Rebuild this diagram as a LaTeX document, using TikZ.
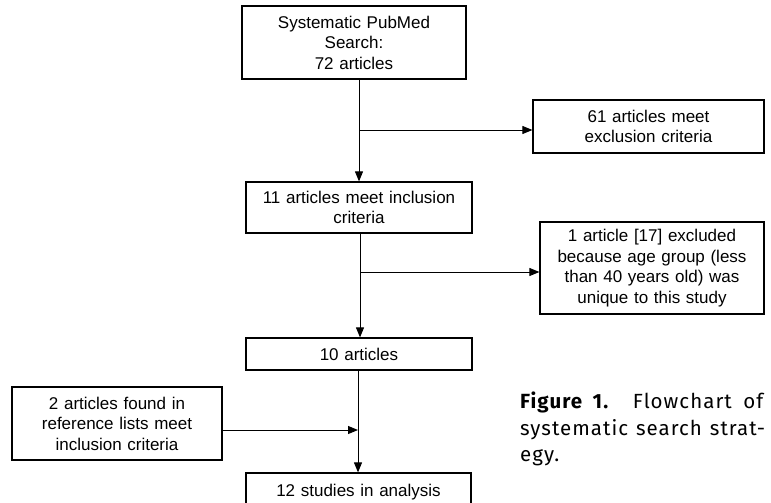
\documentclass[tikz,border=0pt]{standalone}
\usepackage{fontspec}
\setmainfont{Liberation Sans}
\newfontfamily\capfont[LetterSpace=5]{Fira Sans}
\usetikzlibrary{arrows.meta}
\tikzset{
  box/.style={draw, line width=1.2pt, align=center, inner xsep=5pt, inner ysep=0pt,
    font=\fontsize{17}{20.5}\selectfont},
  link/.style={line width=1pt, -{Triangle[length=10pt,width=8pt]}},
  capline/.style={anchor=base west, inner sep=0pt, font=\capfont\fontsize{20.5}{26}\selectfont}
}
\begin{document}
\begin{tikzpicture}[x=1pt,y=-1pt]
    \useasboundingbox (0,0) rectangle (771,503);
    \node[box, text width=214pt, minimum height=73pt] (search) at (354,42.5)
    {Systematic PubMed\\Search:\\72 articles};
    \node[box, text width=221pt, minimum height=53pt] (excl) at (648.5,126.5)
    {61 articles meet\\exclusion criteria};
    \node[box, text width=216pt, minimum height=51pt] (incl) at (359,207.5)
    {11 articles meet inclusion\\criteria};
    \node[box, text width=214pt, minimum height=92pt] (age) at (652,268)
    {1 article [17] excluded\\because age group (less\\than 40 years old) was\\unique to this study};
    \node[box, text width=216pt, minimum height=32pt] (ten) at (359,354) {10 articles};
    \node[box, text width=200pt, minimum height=73pt] (refs) at (117,423.5)
    {2 articles found in\\reference lists meet\\inclusion criteria};
    \node[box, text width=215pt, minimum height=37pt, text depth=0pt] (final) at (358.5,491.5)
    {\raisebox{2pt}{12 studies in analysis}};
    % junctions on the main line
    \coordinate (j1) at (359,130);
    \coordinate (j2) at (360,272);
    \coordinate (j3) at (358,430);
    \draw[link] (search.south -| j1) -- (incl.north -| j1);
    \draw[link] (j1) -- (excl.west |- j1);
    \draw[link] (incl.south -| j2) -- (ten.north -| j2);
    \draw[link] (j2) -- (age.west |- j2);
    \draw[link] (ten.south -| j3) -- (final.north -| j3);
    \draw[link] (refs.east |- j3) -- (j3);
    % caption
    \node[capline] (cap1) at (520,408) {\makebox[243pt][s]{\textbf{Figure 1.} Flowchart of}};
    \node[capline] (cap2) at (520,435) {\makebox[245pt][s]{systematic search strat-}};
    \node[capline] (cap3) at (520,461) {egy.};
\end{tikzpicture}
\end{document}
